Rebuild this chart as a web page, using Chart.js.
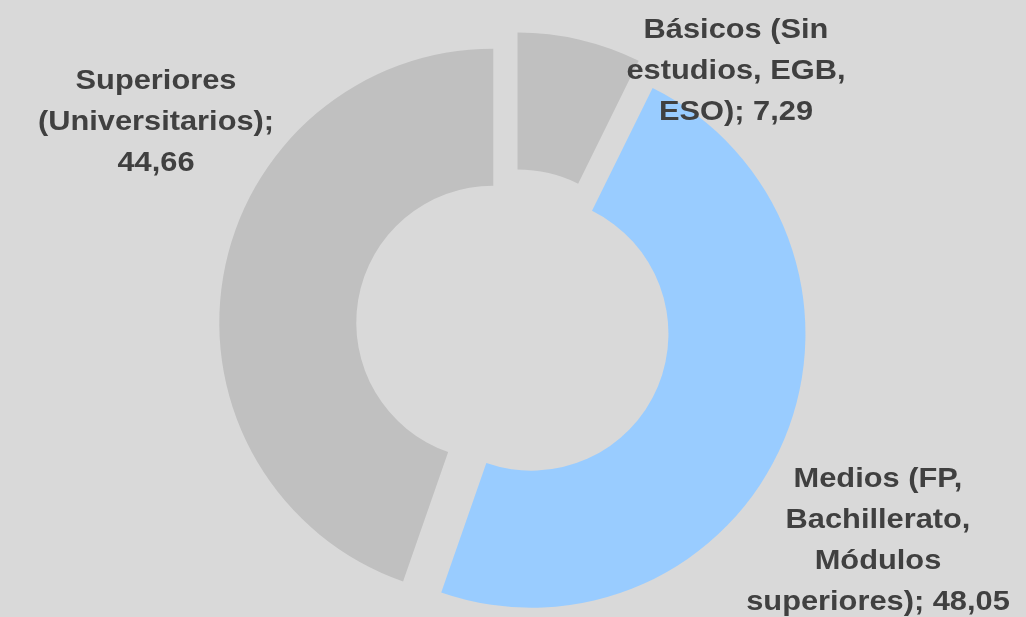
<!DOCTYPE html>
<html>
<head>
<meta charset="utf-8">
<script src="https://cdn.jsdelivr.net/npm/chart.js@4"></script>
<style>
  html, body { margin: 0; padding: 0; background: #d9d9d9; }
  #wrap { width: 1026px; height: 617px; }
</style>
</head>
<body>
<div id="wrap"><canvas id="c" width="1026" height="617"></canvas></div>
<script>
const categories = ['Básicos (Sin estudios, EGB, ESO)', 'Medios (FP, Bachillerato, Módulos superiores)', 'Superiores (Universitarios)'];
const values = [7.29, 48.05, 44.66];
const colors = ['#c0c0c0', '#99ccff', '#c0c0c0'];
const labelLines = [
  ['Básicos (Sin', 'estudios, EGB,', 'ESO); 7,29'],
  ['Medios (FP,', 'Bachillerato,', 'Módulos', 'superiores); 48,05'],
  ['Superiores', '(Universitarios);', '44,66']
];
// label anchor (center x, first baseline y)
const labelAnchors = [[736, 38], [878, 487], [156, 89]];

const explode = {
  id: 'explode',
  afterDatasetUpdate(chart, args) {
    const meta = chart.getDatasetMeta(args.index);
    meta.data.forEach(arc => {
      const mid = (arc.startAngle + arc.endAngle) / 2;
      arc.x += Math.cos(mid) * 20;
      arc.y += Math.sin(mid) * 20;
    });
  }
};

const labels = {
  id: 'labels',
  afterDraw(chart) {
    const ctx = chart.ctx;
    ctx.save();
    ctx.fillStyle = '#404040';
    ctx.font = 'bold 28px "Liberation Sans", Arial, sans-serif';
    ctx.textAlign = 'center';
    ctx.textBaseline = 'alphabetic';
    labelLines.forEach((lines, i) => {
      const [x, y] = labelAnchors[i];
      lines.forEach((t, j) => {
        ctx.save();
        ctx.translate(x, y + j * 41);
        ctx.scale(1.1, 1);
        ctx.fillText(t, 0, 0);
        ctx.restore();
      });
    });
    ctx.restore();
  }
};

new Chart(document.getElementById('c'), {
  type: 'doughnut',
  data: {
    labels: categories,
    datasets: [{
      data: values,
      backgroundColor: colors,
      borderWidth: 0
    }]
  },
  options: {
    responsive: false,
    animation: false,
    events: [],
    radius: 274,
    cutout: '50%',
    layout: { padding: { top: 35, bottom: 0, left: 0, right: 0 } },
    plugins: {
      legend: { display: false },
      tooltip: { enabled: false }
    }
  },
  plugins: [explode, labels]
});
</script>
</body>
</html>
